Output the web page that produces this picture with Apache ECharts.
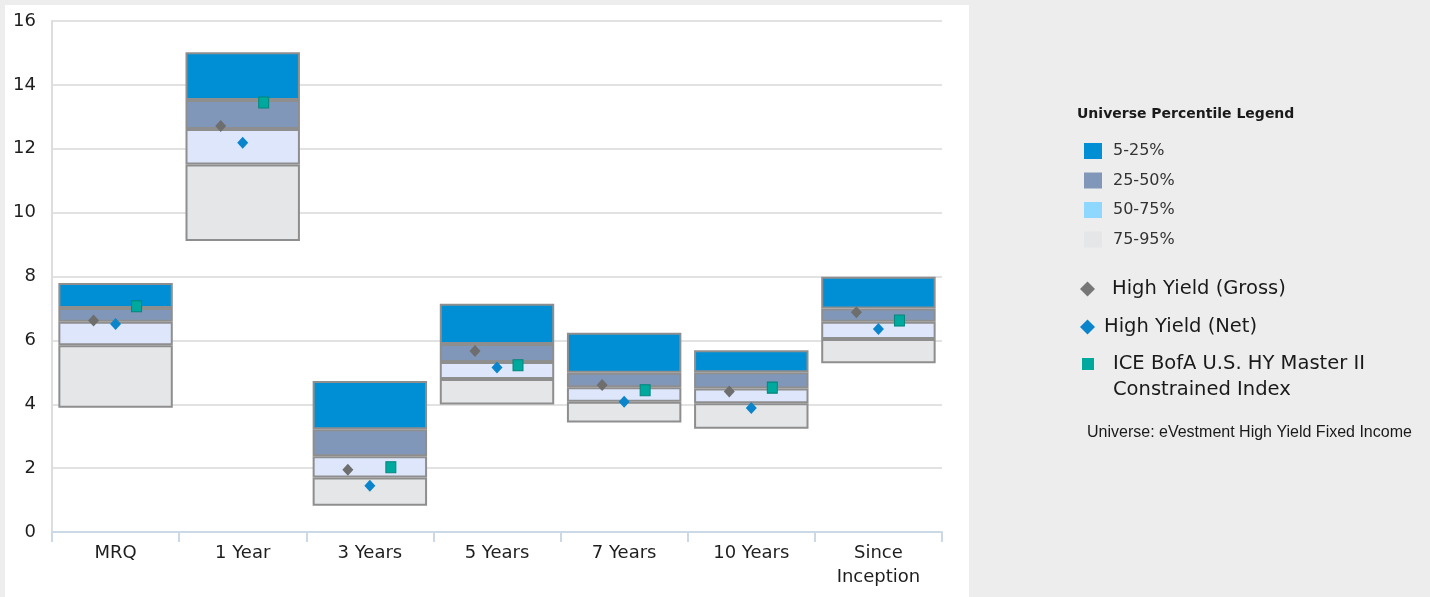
<!DOCTYPE html>
<html>
<head>
<meta charset="utf-8">
<script src="https://cdn.jsdelivr.net/npm/echarts@6/dist/echarts.min.js"></script>
<style>
html,body{margin:0;padding:0;background:#ECEDEC;}
#chart{width:1430px;height:597px;}
</style>
</head>
<body>
<div id="chart"></div>
<script>
// ---- Data ----
var categories = ['MRQ', '1 Year', '3 Years', '5 Years', '7 Years', '10 Years', 'Since Inception'];
var yTicks = [0, 2, 4, 6, 8, 10, 12, 14, 16];
// percentile boundaries (5th = top, 95th = bottom)
var p5  = [7.80, 15.02, 4.73, 7.15, 6.24, 5.69, 7.99];
var p25 = [7.01, 13.53, 3.22, 5.89, 4.99, 5.00, 7.00];
var p50 = [6.58, 12.62, 2.37, 5.32, 4.53, 4.49, 6.58];
var p75 = [5.85, 11.51, 1.71, 4.79, 4.08, 4.03, 6.04];
var p95 = [3.89, 9.11, 0.82, 3.99, 3.43, 3.23, 5.28];
var gross = [6.62, 12.71, 1.95, 5.67, 4.60, 4.40, 6.88];
var net   = [6.51, 12.19, 1.45, 5.15, 4.08, 3.88, 6.36];
var bench = [7.07, 13.45, 2.03, 5.22, 4.44, 4.52, 6.62];

var names = ['5-25%', '25-50%', '50-75%', '75-95%'];
var grossName = 'High Yield (Gross)';
var netName = 'High Yield (Net)';
var benchName = 'ICE BofA U.S. HY Master II Constrained Index';

function diff(a, b) { return a.map(function (v, i) { return +(v - b[i]).toFixed(4); }); }

var FONT = 'DejaVu Sans';
var border = { borderColor: '#8E8E8E', borderWidth: 2 };
function seg(name, data, color) {
  return {
    name: name, type: 'bar', stack: 'u', data: data, barWidth: '90%',
    itemStyle: Object.assign({ color: color }, border),
    emphasis: { disabled: true }, z: 2
  };
}

var chart = echarts.init(document.getElementById('chart'));
chart.setOption({
  animation: false,
  backgroundColor: '#ECEDEC',
  graphic: [{
    type: 'rect', z: -10, silent: true,
    shape: { x: 5, y: 5, width: 964, height: 600 },
    style: { fill: '#FFFFFF' }
  }],
  title: [{
    text: 'Universe Percentile Legend', left: 1077, top: 107, padding: 0,
    textStyle: { fontFamily: FONT, fontWeight: 'bold', fontSize: 14, color: '#1A1A1A' }
  }, {
    text: 'Universe: eVestment High Yield Fixed Income', left: 1087, top: 425, padding: 0,
    textStyle: { fontFamily: 'Liberation Sans', fontWeight: 'normal', fontSize: 16, color: '#1A1A1A' }
  }],
  legend: [{
    orient: 'vertical', left: 1084, top: 142, padding: 0,
    itemWidth: 18, itemHeight: 16, itemGap: 11.5, icon: 'rect',
    data: [
      { name: names[0] },
      { name: names[1] },
      { name: names[2], itemStyle: { color: '#8ED8FF' } },
      { name: names[3] }
    ],
    itemStyle: { borderWidth: 0 },
    selectedMode: false,
    textStyle: { fontFamily: FONT, fontSize: 16, color: '#333333', lineHeight: 18, padding: [0, 0, 0, 6] }
  }, {
    left: 1080, top: 278, padding: 0, itemWidth: 15, itemHeight: 15,
    data: [grossName], selectedMode: false,
    itemStyle: { opacity: 1, color: '#777777' },
    textStyle: { fontFamily: FONT, fontSize: 19.5, color: '#1A1A1A', lineHeight: 22, padding: [0, 0, 0, 12] }
  }, {
    left: 1080, top: 316, padding: 0, itemWidth: 15, itemHeight: 15,
    data: [netName], selectedMode: false,
    itemStyle: { opacity: 1 },
    textStyle: { fontFamily: FONT, fontSize: 19.5, color: '#1A1A1A', lineHeight: 22, padding: [0, 0, 0, 4] }
  }, {
    left: 1082, top: 325, padding: 0, itemWidth: 12, itemHeight: 12,
    data: [benchName], selectedMode: false,
    itemStyle: { opacity: 1, borderWidth: 0 },
    formatter: function () { return ' \nICE BofA U.S. HY Master II\nConstrained Index'; },
    textStyle: { fontFamily: FONT, fontSize: 19.5, color: '#1A1A1A', lineHeight: 26, padding: [0, 0, 0, 14] }
  }],
  grid: { left: 52, right: 488, top: 21, bottom: 65 },
  xAxis: {
    type: 'category', data: categories,
    axisLine: { lineStyle: { color: '#CBD8E6', width: 2 } },
    axisTick: { show: true, length: 10, lineStyle: { color: '#CBD8E6', width: 2 } },
    axisLabel: {
      margin: 9, fontFamily: FONT, fontSize: 18, color: '#1E1E1E', lineHeight: 24,
      formatter: function (v) { return v === 'Since Inception' ? 'Since\nInception' : v; }
    }
  },
  yAxis: {
    type: 'value', min: yTicks[0], max: yTicks[yTicks.length - 1], interval: 2,
    axisLine: { show: true, lineStyle: { color: '#DDDDDD', width: 2 } },
    axisTick: { show: false },
    splitLine: { lineStyle: { color: '#E2E2E2', width: 2 } },
    axisLabel: { margin: 16, fontFamily: FONT, fontSize: 18, color: '#1E1E1E', padding: [4, 0, 0, 0] }
  },
  tooltip: { show: false },
  series: [
    { name: 'base', type: 'bar', stack: 'u', data: p95, barWidth: '90%',
      itemStyle: { color: 'transparent', borderWidth: 0 }, silent: true },
    seg(names[3], diff(p75, p95), '#E5E6E8'),
    seg(names[2], diff(p50, p75), '#DDE6FB'),
    seg(names[1], diff(p25, p50), '#8197B9'),
    seg(names[0], diff(p5, p25), '#008FD5'),
    { name: grossName, type: 'scatter', data: gross, symbol: 'diamond', symbolSize: [11, 12],
      symbolOffset: [-22, 0], itemStyle: { color: '#6E6E6E', opacity: 1 }, z: 5 },
    { name: netName, type: 'scatter', data: net, symbol: 'diamond', symbolSize: [11, 12],
      symbolOffset: [0, 0], itemStyle: { color: '#0A85CC', opacity: 1 }, z: 5 },
    { name: benchName, type: 'scatter', data: bench, symbol: 'rect', symbolSize: [10, 11],
      symbolOffset: [21, 0], itemStyle: { color: '#00A99D', borderColor: '#00857B', borderWidth: 1, opacity: 1 }, z: 5 }
  ]
});
</script>
</body>
</html>
